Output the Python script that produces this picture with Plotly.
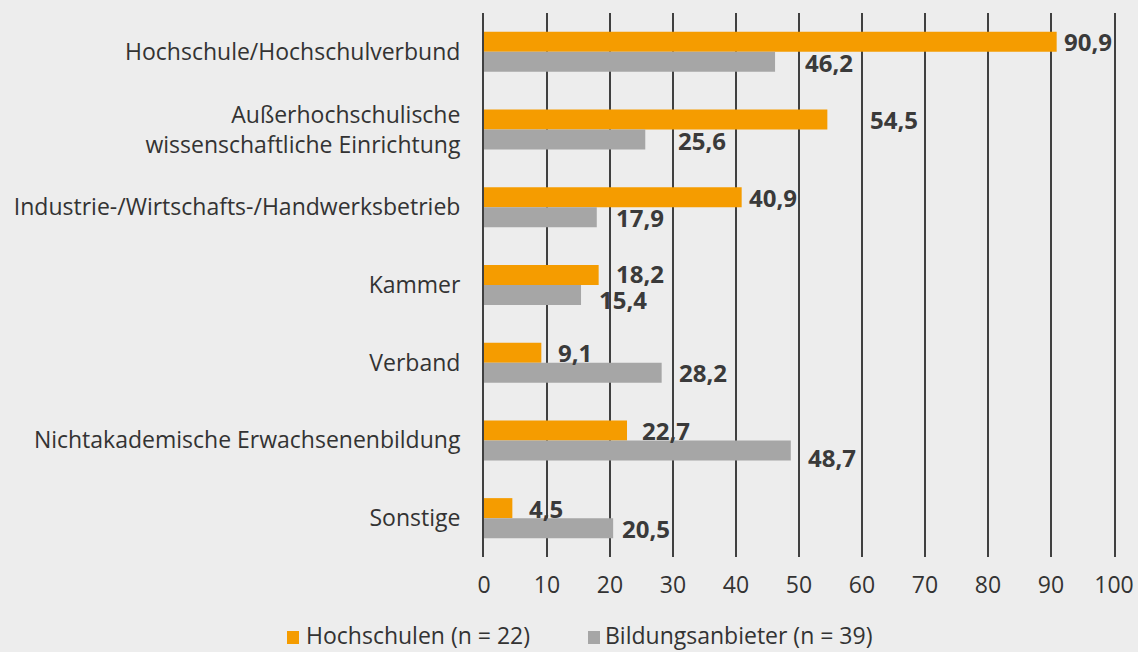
import plotly.graph_objects as go

categories = [
    "Hochschule/Hochschulverbund",
    "Außerhochschulische<br>wissenschaftliche Einrichtung",
    "Industrie-/Wirtschafts-/Handwerksbetrieb",
    "Kammer",
    "Verband",
    "Nichtakademische Erwachsenenbildung",
    "Sonstige",
]
hochschulen = [90.9, 54.5, 40.9, 18.2, 9.1, 22.7, 4.5]
bildungsanbieter = [46.2, 25.6, 17.9, 15.4, 28.2, 48.7, 20.5]
series_names = ["Hochschulen (n = 22)", "Bildungsanbieter (n = 39)"]
tick_values = [0, 10, 20, 30, 40, 50, 60, 70, 80, 90, 100]

# label placement tweaks (pixels), style only
orange_dx = [5, 41, 5, 15, 15, 13, 15]
orange_dy = [0, 0, 0, 2, 0, 0, 0]
grey_dx = [28, 31, 17, 16, 15, 15, 7]
grey_dy = [-1, -1, 0, -4, 0, -7, 0]

ORANGE = "#F59C00"
GREY = "#A6A6A6"
BG = "#EDEDED"
TXT = "#3A3A3A"
GRID = "#404040"
FONT = "Open Sans"

W, H = 1138, 652
ML, MR, MT, MB = 484, 24, 13, 95
PW, PH = W - ML - MR, H - MT - MB


def px_x(px):
    return (px - ML) / PW


def px_y(py):
    return (H - MB - py) / PH


fig = go.Figure()
colors = [ORANGE, GREY]
for vals, name, col in ((hochschulen, series_names[0], ORANGE),
                        (bildungsanbieter, series_names[1], GREY)):
    fig.add_trace(go.Bar(y=categories, x=vals, orientation="h", name=name,
                         marker=dict(color=col, line=dict(width=0))))

annotations = []
for i, c in enumerate(categories):
    for val, dx, dy, base in ((hochschulen[i], orange_dx[i], orange_dy[i], 10),
                              (bildungsanbieter[i], grey_dx[i], grey_dy[i], -10)):
        annotations.append(dict(
            x=val, y=c, xref="x", yref="y",
            text="<b>" + f"{val:.1f}".replace(".", ",") + "</b>",
            showarrow=False, xanchor="left", yanchor="middle",
            xshift=dx, yshift=base + dy,
            font=dict(family=FONT, size=24, color=TXT),
        ))

# manual legend
legend_sq_x = [287, 588]
legend_txt_x = [304, 603]
legend_y = 635
shapes = []
for name, col, sx, tx in zip(series_names, colors, legend_sq_x, legend_txt_x):
    shapes.append(dict(type="rect", xref="paper", yref="paper",
                       x0=px_x(sx), x1=px_x(sx + 12),
                       y0=px_y(legend_y + 9), y1=px_y(legend_y - 4),
                       fillcolor=col, line=dict(width=0)))
    annotations.append(dict(x=px_x(tx), y=px_y(legend_y), xref="paper", yref="paper",
                            text=name, showarrow=False, xanchor="left", yanchor="middle",
                            font=dict(family=FONT, size=23, color="#333333")))

fig.update_layout(
    width=W, height=H,
    paper_bgcolor=BG, plot_bgcolor=BG,
    margin=dict(l=ML, r=MR, t=MT, b=MB, autoexpand=False),
    barmode="group", bargap=0.485, bargroupgap=0,
    font=dict(family=FONT, size=23, color="#333333"),
    showlegend=False,
    annotations=annotations,
    shapes=shapes,
    xaxis=dict(range=[0, 100], tickvals=tick_values, showgrid=True,
               gridcolor=GRID, gridwidth=2, zeroline=False,
               showline=False, ticks="", ticklen=0, ticklabelstandoff=12,
               automargin=False,
               tickfont=dict(family=FONT, size=23, color="#333333")),
    yaxis=dict(autorange="reversed", showgrid=False, ticks="",
               showline=True, mirror=True, linecolor=GRID, linewidth=2,
               ticklabelstandoff=17, automargin=False,
               tickfont=dict(family=FONT, size=23, color="#333333")),
)
fig.write_html("out.html", config={"displayModeBar": False},
               post_script="document.body.style.margin='0';")
